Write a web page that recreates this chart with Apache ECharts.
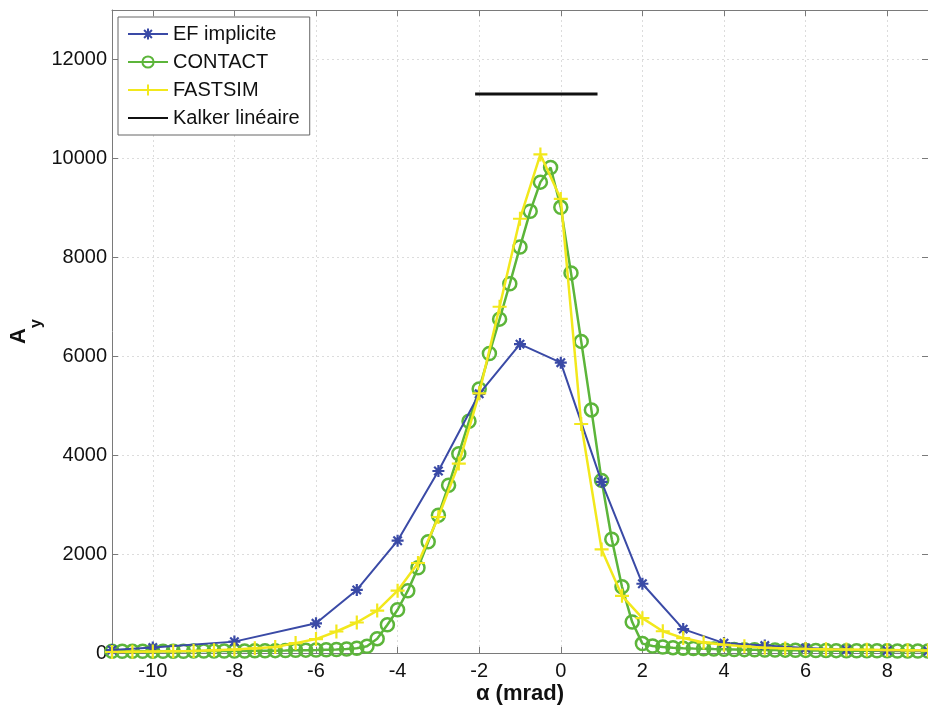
<!DOCTYPE html>
<html><head><meta charset="utf-8">
<script src="https://cdn.jsdelivr.net/npm/echarts@6/dist/echarts.min.js"></script>
<style>html,body{margin:0;padding:0;background:#fff}#c{width:928px;height:706px}</style>
</head><body><div id="c"></div>
<script>
const efX = [-11,-10,-8,-6,-5,-4,-3,-2,-1,0,1,2,3,4,5,6,7,8,9];
const efY = [60,110,230,600,1275,2270,3680,5240,6245,5870,3460,1400,483,200,150,100,66,50,40];

const contactX = [-11,-10.75,-10.5,-10.25,-10,-9.75,-9.5,-9.25,-9,-8.75,-8.5,-8.25,-8,-7.75,-7.5,-7.25,
  -7,-6.75,-6.5,-6.25,-6,-5.75,-5.5,-5.25,-5,-4.75,-4.5,-4.25,-4,-3.75,-3.5,-3.25,-3,-2.75,-2.5,-2.25,
  -2,-1.75,-1.5,-1.25,-1,-0.75,-0.5,-0.25,0,0.25,0.5,0.75,1,1.25,1.5,1.75,2,2.25,2.5,2.75,3,3.25,3.5,3.75,
  4,4.25,4.5,4.75,5,5.25,5.5,5.75,6,6.25,6.5,6.75,7,7.25,7.5,7.75,8,8.25,8.5,8.75,9];
const contactY = [35,35,35,35,35,35,35,35,38,38,38,40,40,42,45,45,
  48,50,55,58,60,65,70,80,95,135,290,570,875,1260,1725,2250,2785,3390,4030,4685,
  5340,6055,6750,7465,8210,8930,9520,9815,9010,7685,6300,4915,3490,2300,1340,625,190,140,120,108,98,90,85,80,
  76,72,68,65,62,60,58,55,53,51,50,48,47,46,45,44,43,42,41,40,40];

const fastsimX = [-11,-10.5,-10,-9.5,-9,-8.5,-8,-7.5,-7,-6.5,-6,-5.5,-5,-4.5,-4,-3.5,-3,-2.5,-2,-1.5,-1,-0.5,
  0,0.5,1,1.5,2,2.5,3,3.5,4,4.5,5,5.5,6,6.5,7,7.5,8,8.5,9];
const fastsimY = [20,25,30,35,40,55,70,95,120,200,282,435,617,858,1260,1820,2750,3830,5250,7000,8780,10080,
  9180,4630,2095,1155,705,440,302,214,167,134,105,92,82,75,70,65,60,55,50];

const kalkerX = [-2.1, 0.9];
const kalkerY = [11300, 11300];

const seriesNames = ['EF implicite', 'CONTACT', 'FASTSIM', 'Kalker linéaire'];
const xTickLabels = [-10,-8,-6,-4,-2,0,2,4,6,8];
const yTickLabels = [0,2000,4000,6000,8000,10000,12000];

const zip = (xs, ys) => xs.map((x, i) => [x, ys[i]]);
const BLUE = '#3a4aa6', GREEN = '#5cb53a', YELLOW = '#f2e81c';
const FONT = '"Liberation Sans", Arial, Helvetica, sans-serif';
const STAR = 'path://M5,0L5,10M0,5L10,5M1.5,1.5L8.5,8.5M8.5,1.5L1.5,8.5';
const PLUS = 'path://M5,0L5,10M0,5L10,5';
const gridLine = {show: true, lineStyle: {color: '#dcdcdc', type: [2, 3], width: 1}};
const axLine = {show: true, onZero: false, lineStyle: {color: '#7a7a7a', width: 1}};
const tick = {show: true, inside: true, length: 6, lineStyle: {color: '#7a7a7a'}};

const chart = echarts.init(document.getElementById('c'), null, {renderer: 'canvas'});
chart.setOption({
  animation: false,
  backgroundColor: '#fff',
  textStyle: {fontFamily: FONT},
  grid: {left: 112, right: 0, top: 10, bottom: 53, containLabel: false, outerBoundsMode: 'none'},
  legend: {
    orient: 'vertical', left: 118, top: 17,
    data: [seriesNames[0], seriesNames[1], seriesNames[2],
      {name: seriesNames[3], itemStyle: {opacity: 0}}],
    itemWidth: 40, itemHeight: 14, itemGap: 8,
    padding: [7, 10, 7, 9],
    borderColor: '#666', borderWidth: 1, backgroundColor: '#fff',
    textStyle: {fontSize: 20, color: '#111', fontFamily: FONT}
  },
  xAxis: [{
    type: 'value', min: -11, max: 9,
    axisLine: axLine, splitLine: gridLine,
    axisTick: Object.assign({customValues: xTickLabels}, tick),
    axisLabel: {customValues: xTickLabels, fontSize: 20, color: '#111', margin: 8, fontFamily: FONT,
      formatter: v => String(v)},
    name: 'α (mrad)', nameLocation: 'middle', nameGap: 30, nameMoveOverlap: false,
    nameTextStyle: {fontSize: 22, fontWeight: 'bold', color: '#111', fontFamily: FONT}
  }, {
    type: 'value', position: 'top', min: -11, max: 9,
    axisLine: axLine, splitLine: {show: false},
    axisTick: Object.assign({customValues: xTickLabels}, tick),
    axisLabel: {show: false}
  }],
  yAxis: [{
    type: 'value', min: 0, max: 13000, interval: 2000,
    axisLine: axLine, splitLine: gridLine,
    axisTick: tick,
    axisLabel: {fontSize: 20, color: '#111', margin: 5, fontFamily: FONT,
      formatter: v => (yTickLabels.indexOf(v) >= 0 ? String(v) : '')},
    name: '{a|A}{b|y}', nameLocation: 'middle', nameGap: 67, nameRotate: 90, nameMoveOverlap: false,
    nameTextStyle: {
      color: '#111', fontFamily: FONT,
      rich: {
        a: {fontSize: 22, fontWeight: 'bold', color: '#111', fontFamily: FONT},
        b: {fontSize: 16, fontWeight: 'bold', color: '#111', fontFamily: FONT, padding: [36, 0, 0, 0]}
      }
    }
  }, {
    type: 'value', position: 'right', min: 0, max: 13000, interval: 2000,
    axisLine: {show: false, onZero: false}, splitLine: {show: false},
    axisTick: tick,
    axisLabel: {show: false}
  }],
  series: [{
    name: seriesNames[0], type: 'line', data: zip(efX, efY),
    symbol: STAR, symbolSize: 12,
    lineStyle: {color: BLUE, width: 2},
    itemStyle: {color: BLUE, borderColor: BLUE, borderWidth: 2.2},
    z: 4
  }, {
    name: seriesNames[1], type: 'line', data: zip(contactX, contactY),
    symbol: 'circle', symbolSize: 13,
    lineStyle: {color: GREEN, width: 2.5},
    itemStyle: {color: 'rgba(0,0,0,0)', borderColor: GREEN, borderWidth: 2.5},
    z: 3
  }, {
    name: seriesNames[2], type: 'line', data: zip(fastsimX, fastsimY),
    symbol: PLUS, symbolSize: 14,
    lineStyle: {color: YELLOW, width: 2.5},
    itemStyle: {color: YELLOW, borderColor: YELLOW, borderWidth: 2.2},
    z: 5
  }, {
    name: seriesNames[3], type: 'line', data: zip(kalkerX, kalkerY),
    symbol: 'none', showSymbol: false,
    lineStyle: {color: '#111', width: 3},
    itemStyle: {color: '#111'},
    z: 6
  }]
});
</script>
</body></html>
